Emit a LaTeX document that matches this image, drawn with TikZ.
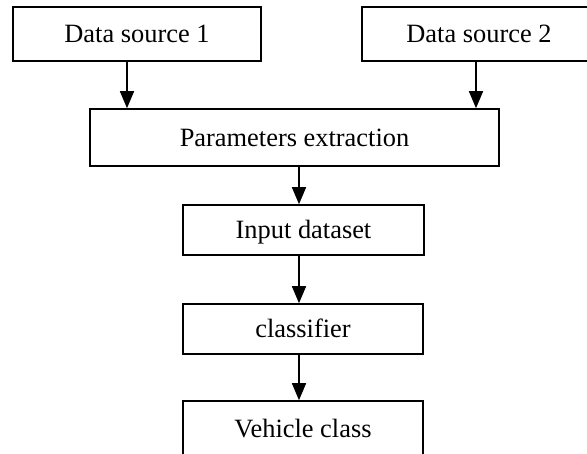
\documentclass[tikz,border=0pt]{standalone}
\usepackage{fontspec}
\setmainfont{Liberation Serif}
\usetikzlibrary{arrows.meta}
\begin{document}
\begin{tikzpicture}[x=1pt,y=-1pt,
  stepbox/.style={draw=black, line width=1.6pt, inner sep=0pt,
    text height=17.5pt, text depth=0pt,
    font=\fontsize{26.4}{30}\selectfont},
  flow/.style={line width=1.6pt, -{Triangle[length=17pt,width=14pt]}}]
  \useasboundingbox (0,0) rectangle (587,453);
  \clip (0,0) rectangle (587,453);
  % boxes
  \node[stepbox, minimum width=248pt, minimum height=54pt] (ds1) at (137,34) {Data source 1};
  \node[stepbox, minimum width=234pt, minimum height=54pt] (ds2) at (479,34) {Data source 2};
  \node[stepbox, minimum width=409pt, minimum height=57pt] (par) at (294.5,137.5) {Parameters extraction};
  \node[stepbox, minimum width=241pt, minimum height=50pt] (inp) at (303.5,230) {Input dataset};
  \node[stepbox, minimum width=240pt, minimum height=50pt] (cls) at (303,329) {classifier};
  \node[stepbox, minimum width=240pt, minimum height=56pt] (veh) at (303,429) {Vehicle class};
  % arrow columns
  \coordinate (c1) at (127,0);
  \coordinate (c2) at (476,0);
  \coordinate (c3) at (299,0);
  % connectors
  \draw[flow] (ds1.south -| c1) -- (par.north -| c1);
  \draw[flow] (ds2.south -| c2) -- (par.north -| c2);
  \draw[flow] (par.south -| c3) -- (inp.north -| c3);
  \draw[flow] (inp.south -| c3) -- (cls.north -| c3);
  \draw[flow] (cls.south -| c3) -- (veh.north -| c3);
\end{tikzpicture}
\end{document}
